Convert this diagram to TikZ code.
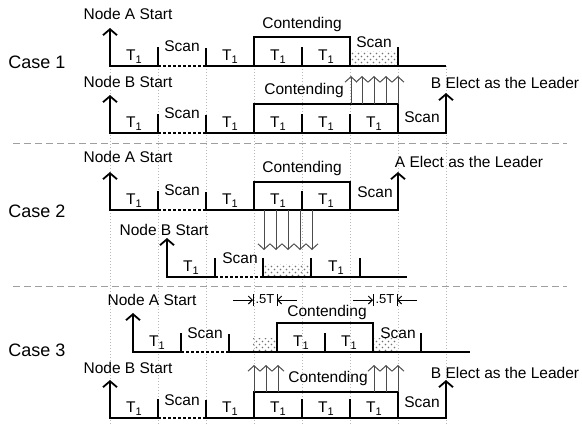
\documentclass[tikz,border=0pt]{standalone}
\usepackage{fontspec}
\setmainfont{Liberation Sans}
\usetikzlibrary{arrows.meta,patterns}

% sparse staggered dots for the scanning intervals
\pgfdeclarepatternformonly{sparsedots}{\pgfqpoint{-0.5pt}{-0.5pt}}{\pgfqpoint{6.5pt}{6.5pt}}{\pgfqpoint{6pt}{6pt}}{%
  \pgfpathcircle{\pgfqpoint{1.5pt}{1.5pt}}{0.85pt}%
  \pgfpathcircle{\pgfqpoint{4.5pt}{4.5pt}}{0.85pt}%
  \pgfusepath{fill}}

\newcommand\Tsub{T\raisebox{-0.35ex}{\fontsize{11}{11}\selectfont 1}}

\begin{document}
\begin{tikzpicture}[x=1pt,y=-1pt,
  every node/.style={inner sep=0pt},
  lbl/.style={font=\fontsize{15.5}{18}\selectfont},
  caselbl/.style={font=\fontsize{18}{20}\selectfont},
  smalllbl/.style={font=\fontsize{13}{14}\selectfont},
  sig/.style={line width=1.8pt},
  scanseg/.style={line width=1.8pt, dash pattern=on 3pt off 2pt},
  gridline/.style={gray!55, line width=0.8pt, dash pattern=on 1pt off 2pt},
  sep/.style={gray!75, line width=1pt, dash pattern=on 7pt off 4pt},
  startarrow/.style={line width=1.8pt, -{Straight Barb[length=6pt,width=14pt]}},
  hit/.style={black!70, line width=1pt, -{Straight Barb[length=5.5pt,width=12pt]}},
  busy/.style={pattern=sparsedots, pattern color=black!55},
  dimarrow/.style={line width=0.9pt, -{Straight Barb[length=4pt,width=8pt]}},
]
\useasboundingbox (0,0) rectangle (582,424);

% time grid
\foreach \x in {110,158,...,446} \draw[gridline] (\x,66) -- (\x,424);

% case separators
\draw[sep] (13,143) -- (567,143);
\draw[sep] (13,286) -- (567,286);

% case titles
\node[caselbl] (case1) at (37,62) {Case 1};
\node[caselbl] (case2) at (37,211) {Case 2};
\node[caselbl] (case3) at (37,350) {Case 3};

% ---------------- Case 1, node A ----------------
\fill[busy] (350,51) rectangle (398,66);
\draw[startarrow] (158,66) -- (110,66) -- (110,28);
\draw[scanseg] (158,66) -- (206,66);
\draw[sig] (206,66) -- (446,66);
\draw[sig] (158,47) -- (158,66) (206,48) -- (206,66) (302,47) -- (302,66) (398,47) -- (398,66);
\draw[sig] (254,66) |- (350,37) -- (350,66);
\node[lbl] (c1aStart) at (128,14) {Node A Start};
\node[lbl] (c1aT1) at (134,57) {\Tsub};
\node[lbl] (c1aScan) at (182,46) {Scan};
\node[lbl] (c1aT2) at (230,57) {\Tsub};
\node[lbl] (c1aT3) at (278,57) {\Tsub};
\node[lbl] (c1aT4) at (326,57) {\Tsub};
\node[lbl] (c1aScan2) at (374,42) {Scan};
\node[lbl] (c1aCont) at (302,24) {Contending};

% ---------------- Case 1, node B ----------------
\draw[startarrow] (158,133) -- (110,133) -- (110,95);
\draw[scanseg] (158,133) -- (206,133);
\draw[sig] (206,133) -- (398,133);
\draw[startarrow] (398,133) -- (446,133) -- (446,93);
\draw[sig] (158,114) -- (158,133) (206,115) -- (206,133) (302,114) -- (302,133) (350,114) -- (350,133);
\draw[sig] (254,133) |- (398,104) -- (398,133);
\node[lbl] (c1bStart) at (128,82) {Node B Start};
\node[lbl] (c1bT1) at (134,124) {\Tsub};
\node[lbl] (c1bScan) at (182,113) {Scan};
\node[lbl] (c1bT2) at (230,124) {\Tsub};
\node[lbl] (c1bT3) at (278,124) {\Tsub};
\node[lbl] (c1bT4) at (326,124) {\Tsub};
\node[lbl] (c1bT5) at (374,124) {\Tsub};
\node[lbl] (c1bScan2) at (422,117) {Scan};
\node[lbl] (c1bCont) at (304,90) {Contending};
\node[lbl] (c1bLead) at (505,83) {B Elect as the Leader};
\foreach \x in {351,362,374,386,398} \draw[hit] (\x,104) -- (\x,76);

% ---------------- Case 2, node A ----------------
\draw[startarrow] (158,210) -- (110,210) -- (110,172);
\draw[scanseg] (158,210) -- (206,210);
\draw[sig] (206,210) -- (350,210);
\draw[startarrow] (350,210) -- (398,210) -- (398,172);
\draw[sig] (158,191) -- (158,210) (206,192) -- (206,210) (302,191) -- (302,210);
\draw[sig] (254,210) |- (350,182) -- (350,210);
\node[lbl] (c2aStart) at (128,157) {Node A Start};
\node[lbl] (c2aT1) at (134,201) {\Tsub};
\node[lbl] (c2aScan) at (182,190) {Scan};
\node[lbl] (c2aT2) at (230,201) {\Tsub};
\node[lbl] (c2aT3) at (278,201) {\Tsub};
\node[lbl] (c2aT4) at (326,201) {\Tsub};
\node[lbl] (c2aScan2) at (375,192) {Scan};
\node[lbl] (c2aCont) at (302,168) {Contending};
\node[lbl] (c2aLead) at (469,162) {A Elect as the Leader};

% ---------------- Case 2, node B ----------------
\fill[busy] (263,264) rectangle (311,277);
\draw[startarrow] (215,277) -- (167,277) -- (167,238);
\draw[scanseg] (215,277) -- (263,277);
\draw[sig] (263,277) -- (407,277);
\draw[sig] (215,258) -- (215,277) (263,258) -- (263,277) (311,258) -- (311,277) (360,258) -- (360,277);
\node[lbl] (c2bStart) at (164,230) {Node B Start};
\node[lbl] (c2bT1) at (191,268) {\Tsub};
\node[lbl] (c2bScan) at (240,258) {Scan};
\node[lbl] (c2bT2) at (336,268) {\Tsub};
\foreach \x in {264,276,288,300,312} \draw[hit] (\x,210) -- (\x,250);

% ---------------- Case 3, node A ----------------
\fill[busy] (253,338) rectangle (277,352);
\fill[busy] (373,338) rectangle (397,352);
\draw[startarrow] (181,352) -- (133,352) -- (133,313);
\draw[scanseg] (181,352) -- (229,352);
\draw[sig] (229,352) -- (470,352);
\draw[sig] (181,333) -- (181,352) (229,334) -- (229,352) (325,333) -- (325,352) (421,333) -- (421,352);
\draw[sig] (277,352) |- (373,323) -- (373,352);
\node[lbl] (c3aStart) at (152,300) {Node A Start};
\node[lbl] (c3aT1) at (157,343) {\Tsub};
\node[lbl] (c3aScan) at (205,333) {Scan};
\node[lbl] (c3aT2) at (301,343) {\Tsub};
\node[lbl] (c3aT3) at (349,343) {\Tsub};
\node[lbl] (c3aScan2) at (398,333) {Scan};
\node[lbl] (c3aCont) at (327,312) {Contending};

% half-slot offsets
\draw[line width=0.9pt] (253,294) -- (253,306) (277,294) -- (277,306);
\draw[dimarrow] (233,300) -- (253,300);
\draw[dimarrow] (297,300) -- (277,300);
\node[smalllbl] (c3dim1) at (265,299) {.5T};
\draw[line width=0.9pt] (373,294) -- (373,306) (397,294) -- (397,306);
\draw[dimarrow] (353,300) -- (373,300);
\draw[dimarrow] (417,300) -- (397,300);
\node[smalllbl] (c3dim2) at (385,299) {.5T};

% ---------------- Case 3, node B ----------------
\draw[startarrow] (158,418) -- (110,418) -- (110,380);
\draw[scanseg] (158,418) -- (206,418);
\draw[sig] (206,418) -- (398,418);
\draw[startarrow] (398,418) -- (446,418) -- (446,380);
\draw[sig] (158,399) -- (158,418) (206,400) -- (206,418) (302,399) -- (302,418) (350,399) -- (350,418);
\draw[sig] (254,418) |- (398,392) -- (398,418);
\node[lbl] (c3bStart) at (128,368) {Node B Start};
\node[lbl] (c3bT1) at (134,409) {\Tsub};
\node[lbl] (c3bScan) at (182,400) {Scan};
\node[lbl] (c3bT2) at (230,409) {\Tsub};
\node[lbl] (c3bT3) at (278,409) {\Tsub};
\node[lbl] (c3bT4) at (326,409) {\Tsub};
\node[lbl] (c3bT5) at (374,409) {\Tsub};
\node[lbl] (c3bScan2) at (422,402) {Scan};
\node[lbl] (c3bCont) at (328,378) {Contending};
\node[lbl] (c3bLead) at (505,373) {B Elect as the Leader};
\foreach \x in {254,266,278,374,386,398} \draw[hit] (\x,392) -- (\x,365);
\end{tikzpicture}
\end{document}
